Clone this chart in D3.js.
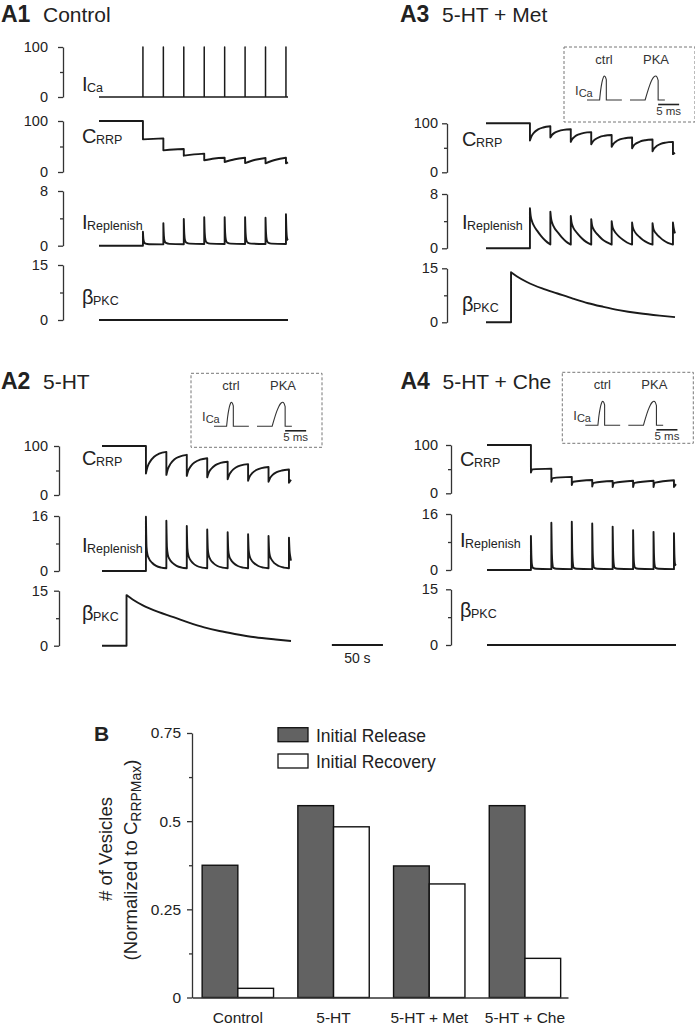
<!DOCTYPE html>
<html><head><meta charset="utf-8">
<script src="https://cdn.jsdelivr.net/npm/d3@7"></script>
<style>
body{margin:0;background:#fff;}
svg{display:block;font-family:"Liberation Sans",Arial,Helvetica,sans-serif;}
</style></head><body>
<svg id="fig" width="695" height="1029"></svg>
<script>
// ================= DATA =================
const pulseTimes = [43,63,83,103,123,143,163,183];   // s
const timeDomain = [0,185];                           // s
const scaleBarSec = [225,275];                        // 50 s bar

// A1 Control
const a1ICaPeaks = [100,100,100,100,100,100,100,100];
const a1CRRP = [
 [[0,100],[43,100]],
 [[43,64],[53,65],[63,66]],
 [[63,42.5],[73,44],[83,45]],
 [[83,32],[93,34.5],[103,36]],
 [[103,23],[113,26.5],[123,28]],
 [[123,19.6],[133,25],[143,28]],
 [[143,17.6],[153,24],[163,27.5]],
 [[163,17],[173,24],[183,28]],
 [[183,17],[185,19]]
];
const a1IRep = [
 [[0,0],[43,0]],
 [[43,2.05],[43.5,0.95],[44.2,0.5],[45.5,0.3],[49,0.22],[63,0.2]],
 [[63,3.3],[63.5,1.5],[64.2,0.7],[65.5,0.4],[69,0.27],[83,0.22]],
 [[83,3.9],[83.5,1.75],[84.2,0.8],[85.5,0.45],[89,0.3],[103,0.25]],
 [[103,4.15],[103.5,1.85],[104.2,0.85],[105.5,0.45],[109,0.3],[123,0.25]],
 [[123,4.15],[123.5,1.85],[124.2,0.85],[125.5,0.45],[129,0.3],[143,0.25]],
 [[143,4.15],[143.5,1.85],[144.2,0.85],[145.5,0.45],[149,0.3],[163,0.25]],
 [[163,4.1],[163.5,1.85],[164.2,0.85],[165.5,0.45],[169,0.3],[183,0.25]],
 [[183,4.6],[183.5,2.1],[184.2,1.0],[185,0.8]]
];
const a1PKC = [[[0,0],[185,0]]];

// A2 5-HT
const a2CRRP = [
 [[0,100],[43,100]],
 [[43,44],[44.5,57],[47,68],[51,78],[56,84.5],[63,88]],
 [[63,41],[64.5,53],[67,63.5],[71,73],[76,78.5],[83,82]],
 [[83,39],[84.5,50],[87,59],[91,67],[96,72],[103,75]],
 [[103,36],[104.5,45.5],[107,53.5],[111,61],[116,65.5],[123,68]],
 [[123,32],[124.5,41],[127,49],[131,56],[136,60.5],[143,63]],
 [[143,29],[144.5,37.5],[147,44.5],[151,51],[156,55],[163,57]],
 [[163,27],[164.5,34.5],[167,41],[171,46.5],[176,50],[183,52]],
 [[183,25],[185,31]]
];
const a2IRep = [
 [[0,0],[43,0]],
 [[43,15.8],[43.6,7],[44.5,4.8],[46,3.6],[49,2.4],[53,1.5],[58,1.0],[63,0.8]],
 [[63,14.6],[63.6,6.8],[64.5,4.7],[66,3.5],[69,2.35],[73,1.5],[78,1.0],[83,0.8]],
 [[83,13.1],[83.6,6.5],[84.5,4.6],[86,3.45],[89,2.3],[93,1.45],[98,1.0],[103,0.8]],
 [[103,12.1],[103.6,6.3],[104.5,4.5],[106,3.4],[109,2.3],[113,1.45],[118,1.0],[123,0.8]],
 [[123,11.3],[123.6,6.1],[124.5,4.4],[126,3.35],[129,2.25],[133,1.45],[138,1.0],[143,0.8]],
 [[143,10.7],[143.6,6.0],[144.5,4.35],[146,3.3],[149,2.25],[153,1.45],[158,1.0],[163,0.8]],
 [[163,10.2],[163.6,5.9],[164.5,4.3],[166,3.3],[169,2.2],[173,1.45],[178,1.0],[183,0.8]],
 [[183,9.7],[183.6,5.8],[184.3,4.2],[185,3.0]]
];
const a2PKC = [
 [[0,0],[24,0]],
 [[24,13.8],[30,12.6],[40,11.0],[55,9.2],[70,7.8],[85,6.3],[100,5.0],[115,4.0],[130,3.2],[150,2.3],[170,1.7],[185,1.3]]
];

// A3 5-HT + Met
const a3CRRP = [
 [[0,100],[43,100]],
 [[43,65],[44.5,73.5],[47,81],[51,87.5],[56,91.5],[63,94]],
 [[63,71],[64.5,76],[67,80.5],[71,84],[76,86.5],[83,88]],
 [[83,62],[84.5,68],[87,73],[91,77.5],[96,80.5],[103,82]],
 [[103,57],[104.5,62.5],[107,67.5],[111,72],[116,74.5],[123,76]],
 [[123,52],[124.5,57.5],[127,62.5],[131,67],[136,69.5],[143,71]],
 [[143,49],[144.5,54.5],[147,59],[151,63],[156,65.5],[163,67]],
 [[163,43],[164.5,48.5],[167,53.5],[171,58],[176,60.5],[183,62]],
 [[183,37],[185,40]]
];
const a3IRep = [
 [[0,0],[43,0]],
 [[43,5.9],[43.7,4.8],[45,4.0],[47,3.3],[50,2.6],[54,1.8],[58,1.15],[63,0.55]],
 [[63,5.4],[63.7,4.4],[65,3.65],[67,3.0],[70,2.4],[74,1.65],[78,1.05],[83,0.55]],
 [[83,4.75],[83.7,3.85],[85,3.2],[87,2.65],[90,2.1],[94,1.45],[98,0.95],[103,0.55]],
 [[103,4.3],[103.7,3.5],[105,2.9],[107,2.4],[110,1.9],[114,1.3],[118,0.9],[123,0.55]],
 [[123,4.0],[123.7,3.25],[125,2.7],[127,2.25],[130,1.75],[134,1.25],[138,0.85],[143,0.55]],
 [[143,3.8],[143.7,3.1],[145,2.6],[147,2.15],[150,1.7],[154,1.2],[158,0.85],[163,0.55]],
 [[163,3.7],[163.7,3.0],[165,2.5],[167,2.1],[170,1.65],[174,1.15],[178,0.8],[183,0.55]],
 [[183,3.8],[183.7,3.0],[185,2.2]]
];
const a3PKC = [
 [[0,0],[24.5,0]],
 [[24.5,13.9],[30,12.8],[40,11.2],[55,9.4],[70,8.0],[85,6.6],[100,5.3],[115,4.3],[130,3.4],[150,2.5],[170,1.85],[185,1.45]]
];

// A4 5-HT + Che
const a4CRRP = [
 [[0,100],[43,100]],
 [[43,43],[43.6,47],[44.5,49.5],[63,51]],
 [[63,24],[63.6,29],[64.5,31.5],[83,34]],
 [[83,17],[83.6,21.5],[84.5,24],[103,27.5]],
 [[103,14],[103.6,19],[104.5,21.5],[123,25.5]],
 [[123,13],[123.6,18.5],[124.5,21.5],[143,26]],
 [[143,13],[143.6,18.5],[144.5,21.5],[163,26]],
 [[163,13],[163.6,19],[164.5,22],[183,27]],
 [[183,13],[185,19]]
];
const a4IRep = [
 [[0,0],[43,0]],
 [[43,9.7],[43.4,4.4],[44,1.5],[45,0.6],[48,0.35],[63,0.25]],
 [[63,13.5],[63.4,6.1],[64,2.0],[65,0.6],[68,0.35],[83,0.25]],
 [[83,13.8],[83.4,6.2],[84,2.1],[85,0.6],[88,0.35],[103,0.25]],
 [[103,13.3],[103.4,6.0],[104,2.0],[105,0.6],[108,0.35],[123,0.25]],
 [[123,12.4],[123.4,5.6],[124,1.9],[125,0.6],[128,0.35],[143,0.25]],
 [[143,11.4],[143.4,5.1],[144,1.7],[145,0.6],[148,0.35],[163,0.25]],
 [[163,10.9],[163.4,4.9],[164,1.6],[165,0.6],[168,0.35],[183,0.25]],
 [[183,10.5],[183.4,4.7],[184,1.8],[185,1.3]]
];
const a4PKC = [[[0,0],[185,0]]];

// Inset I_Ca waveforms (ms, normalized amplitude)
const insetCtrl = [
 [[0,0],[3.0,0]],
 [[3.0,0],[3.25,0.4],[3.55,0.72],[3.85,0.92],[4.1,1],[4.35,0.97],[4.6,0.85]],
 [[4.6,0],[8.3,0]]
];
const insetPKA = [
 [[0,0],[3.6,0]],
 [[3.6,0],[4.1,0.3],[4.7,0.62],[5.2,0.83],[5.7,0.96],[6.1,1],[6.45,0.95],[6.7,0.82]],
 [[6.7,0],[8.3,0]]
];
const insetBarMs = [6.7,11.7];   // 5 ms bar

// B bar chart
const groups = ["Control","5-HT","5-HT + Met","5-HT + Che"];
const initialRelease = [0.375,0.544,0.373,0.544];
const initialRecovery = [0.026,0.484,0.322,0.111];
const seriesNames = ["Initial Release","Initial Recovery"];
const yMajorTicks = [0,0.25,0.5,0.75];
const yMinorTicks = [0.125,0.375,0.625];

// ================= DRAWING =================
const svg = d3.select('#fig');
const INK = '#1a1a1a', AX = '#333', TXT = '#222';

function segPath(segs, x, y, curve){
  const line = d3.line().x(d=>x(d[0])).y(d=>y(d[1])).curve(curve||d3.curveMonotoneX);
  return segs.map((s,i)=>{const p=line(s); return i===0?p:'L'+p.slice(1);}).join('');
}
function icaSegs(times, peaks){
  const pts=[[timeDomain[0],0]];
  times.forEach((t,i)=>{pts.push([t,0],[t,peaks[i]],[t,0]);});
  pts.push([timeDomain[1],0]);
  return [pts];
}

const panels = [
 {tag:'A1', title:'Control', tx:1, ty:22, axisX:63, pad:10, x0:99, x1:288, labelX:82,
  rows:[
   {n:'I', s:'Ca', max:100, top:47, y0:97, base:90.7, data:icaSegs(pulseTimes,a1ICaPeaks), linear:true},
   {n:'C', s:'RRP', max:100, top:121, y0:172, base:142.5, data:a1CRRP},
   {n:'I', s:'Replenish', max:8, top:191, y0:245.7, base:228.5, data:a1IRep},
   {n:'β', s:'PKC', max:15, top:265, y0:320, base:304, data:a1PKC}
  ]},
 {tag:'A3', title:'5-HT + Met', tx:400, ty:22, axisX:447, pad:4, x0:486, x1:675, labelX:462,
  inset:{x:564, y:47, h:75},
  rows:[
   {n:'C', s:'RRP', max:100, top:123.3, y0:172.3, base:145.7, data:a3CRRP},
   {n:'I', s:'Replenish', max:8, top:194, y0:248.3, base:229.3, data:a3IRep},
   {n:'β', s:'PKC', max:15, top:268.3, y0:322.3, base:310.7, data:a3PKC}
  ]},
 {tag:'A2', title:'5-HT', tx:1, ty:389, axisX:59, pad:6, x0:102, x1:291, labelX:82,
  inset:{x:191, y:373.3, h:74}, scaleBar:true,
  rows:[
   {n:'C', s:'RRP', max:100, top:446, y0:495, base:465, data:a2CRRP},
   {n:'I', s:'Replenish', max:16, top:516, y0:571, base:551.7, data:a2IRep},
   {n:'β', s:'PKC', max:15, top:590.7, y0:645.7, base:620, data:a2PKC}
  ]},
 {tag:'A4', title:'5-HT + Che', tx:400.5, ty:389, axisX:451, pad:8, x0:487, x1:676, labelX:460,
  inset:{x:562.3, y:372.3, h:71},
  rows:[
   {n:'C', s:'RRP', max:100, top:445, y0:493.3, base:466, data:a4CRRP},
   {n:'I', s:'Replenish', max:16, top:514, y0:570, base:547.3, data:a4IRep},
   {n:'β', s:'PKC', max:15, top:589.3, y0:645, base:616.7, data:a4PKC}
  ]}
];

panels.forEach(p=>{
  const g = svg.append('g');
  // title
  const t = g.append('text').attr('x',p.tx).attr('y',p.ty).attr('fill',TXT);
  t.append('tspan').attr('font-weight','bold').attr('font-size',23).text(p.tag);
  g.append('text').attr('x',p.tx+42).attr('y',p.ty).attr('fill',TXT).attr('font-size',21).text(p.title);

  const x = d3.scaleLinear().domain(timeDomain).range([p.x0,p.x1]);
  p.rows.forEach(r=>{
    const y = d3.scaleLinear().domain([0,r.max]).range([r.y0,r.top]);
    const mid = r.max/2;
    const ax = d3.axisLeft(y).tickValues([0,mid,r.max]).tickSizeInner(5).tickSizeOuter(0)
      .tickPadding(p.pad).tickFormat(d=>d===mid?'':d3.format('d')(d));
    const ag = g.append('g').attr('transform',`translate(${p.axisX},0)`).call(ax);
    ag.select('.domain').attr('stroke',AX).attr('stroke-width',1.3);
    ag.selectAll('.tick line').attr('stroke',AX).attr('stroke-width',1.3)
      .filter(d=>d===mid).attr('x2',-3);
    ag.selectAll('.tick text').attr('fill',TXT).attr('font-size',14.5)
      .attr('font-family','"Liberation Sans",Arial,sans-serif');
    // trace
    g.append('path').attr('d',segPath(r.data,x,y,r.linear?d3.curveLinear:d3.curveMonotoneX))
      .attr('fill','none').attr('stroke',INK).attr('stroke-width',r.linear?1.5:1.9)
      .attr('stroke-linejoin','round');
    // label
    const lt = g.append('text').attr('x',p.labelX).attr('y',r.base).attr('fill',TXT);
    lt.append('tspan').attr('font-size',20).text(r.n);
    lt.append('tspan').attr('font-size',12.5).attr('dx',-0.5).attr('dy',1).text(r.s);
  });

  if(p.inset){
    const ig = g.append('g').attr('transform',`translate(${p.inset.x},${p.inset.y})`);
    ig.append('rect').attr('x',0).attr('y',0).attr('width',131).attr('height',p.inset.h)
      .attr('fill','none').attr('stroke','#777').attr('stroke-width',1).attr('stroke-dasharray','3,2');
    ig.append('text').attr('x',40).attr('y',17).attr('text-anchor','middle').attr('font-size',13).attr('fill','#333').text('ctrl');
    ig.append('text').attr('x',92).attr('y',17).attr('text-anchor','middle').attr('font-size',13).attr('fill','#333').text('PKA');
    const il = ig.append('text').attr('x',11).attr('y',48).attr('fill','#333');
    il.append('tspan').attr('font-size',13).text('I');
    il.append('tspan').attr('font-size',11).attr('dy',2).text('Ca');
    const iy = d3.scaleLinear().domain([0,1]).range([53,29]);
    const xc = d3.scaleLinear().domain([0,1]).range([23,27.2]);
    const xp = d3.scaleLinear().domain([0,1]).range([66,70.2]);
    ig.append('path').attr('d',segPath(insetCtrl,xc,iy,d3.curveMonotoneX)).attr('fill','none').attr('stroke','#333').attr('stroke-width',1.1);
    ig.append('path').attr('d',segPath(insetPKA,xp,iy,d3.curveMonotoneX)).attr('fill','none').attr('stroke','#333').attr('stroke-width',1.1);
    ig.append('line').attr('x1',xp(insetBarMs[0])).attr('x2',xp(insetBarMs[1])).attr('y1',57.5).attr('y2',57.5)
      .attr('stroke','#222').attr('stroke-width',1.6);
    ig.append('text').attr('x',(xp(insetBarMs[0])+xp(insetBarMs[1]))/2).attr('y',68).attr('text-anchor','middle')
      .attr('font-size',11.5).attr('fill','#333').text('5 ms');
  }
  if(p.scaleBar){
    svg.append('line').attr('x1',x(scaleBarSec[0])).attr('x2',x(scaleBarSec[1])).attr('y1',645).attr('y2',645)
      .attr('stroke',INK).attr('stroke-width',1.8);
    svg.append('text').attr('x',(x(scaleBarSec[0])+x(scaleBarSec[1]))/2).attr('y',663).attr('text-anchor','middle')
      .attr('font-size',14).attr('fill',TXT).text('50 s');
  }
});

// ---------- B ----------
const gb = svg.append('g');
gb.append('text').attr('x',94).attr('y',741).attr('font-weight','bold').attr('font-size',21).attr('fill',TXT).text('B');
const xB = d3.scaleBand().domain(groups).range([192,568]).paddingInner(0.254).paddingOuter(0.0914).align(0.58);
const xSub = d3.scaleBand().domain(seriesNames).range([0,xB.bandwidth()]).padding(0);
const yB = d3.scaleLinear().domain([0,0.75]).range([997.5,733]);
const fills = ['#626262','#ffffff'];
const vals = [initialRelease, initialRecovery];
groups.forEach((grp,i)=>{
  seriesNames.forEach((s,j)=>{
    gb.append('rect').attr('x',xB(grp)+xSub(s)).attr('y',yB(vals[j][i]))
      .attr('width',xSub.bandwidth()).attr('height',yB(0)-yB(vals[j][i]))
      .attr('fill',fills[j]).attr('stroke','#111').attr('stroke-width',1.4);
  });
});
const yAx = d3.axisLeft(yB).tickValues(yMajorTicks).tickSizeInner(5).tickSizeOuter(0).tickPadding(6)
  .tickFormat(d=>d===0?'0':String(d));
const ya = gb.append('g').attr('transform','translate(192,0)').call(yAx);
ya.select('.domain').attr('stroke',AX).attr('stroke-width',1.3);
ya.selectAll('.tick line').attr('stroke',AX).attr('stroke-width',1.3);
ya.selectAll('.tick text').attr('font-size',15.5).attr('fill',TXT).attr('font-family','"Liberation Sans",Arial,sans-serif');
const yMin = d3.axisLeft(yB).tickValues(yMinorTicks).tickSizeInner(3).tickSizeOuter(0).tickFormat('');
const ym = gb.append('g').attr('transform','translate(192,0)').call(yMin);
ym.select('.domain').remove();
ym.selectAll('.tick line').attr('stroke',AX).attr('stroke-width',1.3);
const xAx = d3.axisBottom(xB).tickSizeInner(0).tickSizeOuter(0).tickPadding(14.5);
const xa = gb.append('g').attr('transform',`translate(0,${yB(0)})`).call(xAx);
xa.select('.domain').attr('stroke',AX).attr('stroke-width',1.3);
xa.selectAll('.tick text').attr('font-size',15.5).attr('fill',TXT).attr('font-family','"Liberation Sans",Arial,sans-serif');

// legend
seriesNames.forEach((s,j)=>{
  const ly = 727.7 + j*26.3;
  gb.append('rect').attr('x',278).attr('y',ly).attr('width',30).attr('height',14)
    .attr('fill',fills[j]).attr('stroke','#111').attr('stroke-width',1.3);
  gb.append('text').attr('x',316).attr('y',ly+14).attr('font-size',17.5).attr('fill',TXT).text(s);
});

// y title
gb.append('text').attr('transform','translate(112,849) rotate(-90)').attr('text-anchor','middle')
  .attr('font-size',18.5).attr('fill',TXT).text('# of Vesicles');
const yt2 = gb.append('text').attr('transform','translate(137,860) rotate(-90)').attr('text-anchor','middle')
  .attr('font-size',18.5).attr('fill',TXT);
yt2.append('tspan').text('(Normalized to C');
yt2.append('tspan').attr('font-size',14).attr('dy',4).text('RRPMax');
yt2.append('tspan').attr('dy',-4).text(')');
</script>
</body></html>
